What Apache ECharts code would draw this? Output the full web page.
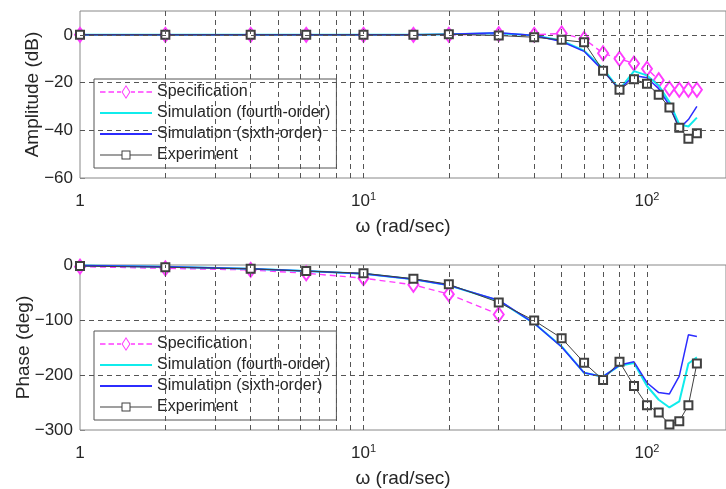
<!DOCTYPE html>
<html>
<head>
<meta charset="utf-8">
<script src="https://cdn.jsdelivr.net/npm/echarts@6/dist/echarts.min.js"></script>
<style>
    body { margin: 0; background: #fff; }
    #main { width: 726px; height: 489px; }
</style>
</head>
<body>
<div id="main"></div>
<script>
var chart = echarts.init(document.getElementById('main'));

// frequencies (rad/sec)
var freq = [1, 2, 4, 6.28, 10, 15, 20, 30, 40, 50, 60, 70, 80, 90, 100, 110, 120, 130, 140, 150];
var spec_phase_freq = [1, 2, 4, 6.28, 10, 15, 20, 30];

// amplitude (dB)
var amp_spec = [0, 0, 0, 0, 0, 0, 0, 0.3, 0, 0.6, -1.7, -7.7, -10, -12, -14.2, -19, -22.6, -23, -23, -23];
var amp_sim4 = [0, 0, 0, 0, 0, 0, 0.3, 0.7, -0.3, -2.4, -6.6, -14.2, -23, -15.2, -17, -21.2, -28.2, -37.5, -38.4, -34.7];
var amp_sim6 = [0, 0, 0, 0, 0, 0, 0.3, 0.9, -0.3, -2.8, -6.9, -15, -23, -17, -18, -22.6, -29.6, -39.3, -35.5, -30];
var amp_exp = [0, 0, 0, 0, 0, 0, 0.3, -0.3, -1, -2.1, -3.1, -15, -23, -18.6, -20.5, -25.1, -30.4, -38.9, -43.5, -41.2];

// phase (deg)
var phase_spec = [-3, -6, -9, -15, -24, -36, -53, -90];
var phase_sim4 = [-1, -3, -7, -11, -16, -26, -37, -65, -106, -148, -196, -203, -183, -178, -220, -245, -259, -248, -179, -168];
var phase_sim6 = [-1, -3, -7, -11, -16, -26, -37, -64, -106, -149, -196, -203, -182, -176, -214, -232, -234.5, -202, -127, -130];
var phase_exp = [-2, -4, -7, -11, -15, -25, -35, -68, -101, -133, -177.6, -209, -175.8, -220, -255, -268, -290, -284, -255, -179];

// grid lines
var grid_x = [2, 3, 4, 5, 6, 7, 8, 9, 10, 20, 30, 40, 50, 60, 70, 80, 90, 100];
var amp_grid_y = [0, -20, -40];
var phase_grid_y = [-100, -200];

var names = ['Specification', 'Simulation (fourth-order)', 'Simulation (sixth-order)', 'Experiment'];
var colors = ['#ff3cff', '#10ecec', '#2c2cff', '#404040'];
var font = 'Liberation Sans, Arial, sans-serif';

// legend icons: line + hollow marker, drawn as filled paths
var icon_spec = 'path://M0,6.3H5.5V7.7H0Z M8.5,6.3H14V7.7H8.5Z M17,6.3H21V7.7H17Z'
    + ' M26,0L30.5,7L26,14L21.5,7Z M26,1.8L22.7,7L26,12.2L29.3,7Z'
    + ' M31,6.3H35V7.7H31Z M38,6.3H43.5V7.7H38Z M46.5,6.3H52V7.7H46.5Z';
var icon_line = 'path://M0,0H52V2H0Z';
var icon_exp = 'path://M0,6.5H21.5V7.5H0Z M30.5,6.5H52V7.5H30.5Z'
    + ' M21.5,2.5H30.5V11.5H21.5Z M22.5,3.5V10.5H29.5V3.5Z';

function zip(xs, ys) {
    return xs.map(function (x, i) { return [x, ys[i]]; });
}

function x_label(v) {
    var e = Math.round(Math.log(v) / Math.LN10);
    if (e === 0) return '1{z| }';
    return '10{s|' + e + '}';
}

function y_label(v) {
    return String(v).replace('-', '\u2212');
}

function make_x_axis(idx) {
    return {
        type: 'log',
        gridIndex: idx,
        min: 1,
        max: 190,
        logBase: 10,
        name: 'ω (rad/sec)',
        nameLocation: 'middle',
        nameGap: 39,
        nameMoveOverlap: false,
        nameTextStyle: { fontSize: 19, color: '#262626', fontFamily: font },
        axisLine: { show: false },
        axisTick: { show: false },
        splitLine: { show: false },
        axisLabel: {
            showMaxLabel: false,
            margin: 13,
            fontSize: 17,
            color: '#262626',
            fontFamily: font,
            formatter: x_label,
            rich: {
                s: { fontSize: 11, padding: [0, 0, 9, 0], color: '#262626', fontFamily: font },
                z: { fontSize: 1, padding: [0, 0, 19, 0] }
            }
        }
    };
}

function make_y_axis(idx, min, max, interval, name, gap) {
    return {
        type: 'value',
        gridIndex: idx,
        min: min,
        max: max,
        interval: interval,
        name: name,
        nameLocation: 'middle',
        nameGap: gap,
        nameMoveOverlap: false,
        nameTextStyle: { fontSize: 19, color: '#262626', fontFamily: font },
        axisLine: { show: false },
        axisTick: { show: true, inside: true, length: 5, lineStyle: { color: '#888' } },
        splitLine: { show: false },
        axisLabel: {
            showMaxLabel: max === 0,
            margin: 7,
            fontSize: 17,
            color: '#262626',
            fontFamily: font,
            formatter: y_label
        }
    };
}

function grid_series(idx, ys) {
    return {
        type: 'line',
        xAxisIndex: idx,
        yAxisIndex: idx,
        data: [],
        silent: true,
        z: 1,
        markLine: {
            silent: true,
            animation: false,
            symbol: ['none', 'none'],
            label: { show: false },
            lineStyle: { color: '#555', type: [5, 4], width: 1 },
            emphasis: { disabled: true },
            data: grid_x.map(function (v) { return { xAxis: v }; })
                .concat(ys.map(function (v) { return { yAxis: v }; }))
        }
    };
}

function spec_series(idx, data) {
    return {
        name: names[0], type: 'line', xAxisIndex: idx, yAxisIndex: idx, z: 2, clip: false,
        data: data,
        symbol: 'emptyDiamond', symbolSize: [10, 14],
        itemStyle: { color: colors[0], borderWidth: 1.2 },
        lineStyle: { color: colors[0], width: 1.4, type: [6, 4] }
    };
}

function sim_series(idx, k, data, w) {
    return {
        name: names[k], type: 'line', xAxisIndex: idx, yAxisIndex: idx, z: 3, clip: false,
        data: data,
        symbol: 'none',
        itemStyle: { color: colors[k] },
        lineStyle: { color: colors[k], width: w }
    };
}

function exp_series(idx, data) {
    return {
        name: names[3], type: 'line', xAxisIndex: idx, yAxisIndex: idx, z: 4, clip: false,
        data: data,
        symbol: 'emptyRect', symbolSize: 8,
        itemStyle: { color: colors[3], borderWidth: 1 },
        lineStyle: { color: colors[3], width: 1 }
    };
}

function make_legend(top) {
    return {
        orient: 'vertical',
        left: 94,
        top: top,
        padding: [5, 6, 5, 6],
        itemWidth: 52,
        itemHeight: 14,
        itemGap: 5,
        itemTextGap: 5,
        backgroundColor: '#fff',
        borderColor: '#555',
        borderWidth: 1,
        borderRadius: 0,
        selectedMode: false,
        itemStyle: { borderWidth: 0 },
        textStyle: { fontSize: 16, color: '#262626', fontFamily: font },
        data: [
            { name: names[0], icon: icon_spec },
            { name: names[1], icon: icon_line },
            { name: names[2], icon: icon_line },
            { name: names[3], icon: icon_exp }
        ]
    };
}

var option = {
    animation: false,
    backgroundColor: '#fff',
    grid: [
        { left: 80, right: -2, top: 11, height: 167, show: true, borderColor: '#888', borderWidth: 1, backgroundColor: 'transparent' },
        { left: 80, right: -2, top: 265, height: 165, show: true, borderColor: '#888', borderWidth: 1, backgroundColor: 'transparent' }
    ],
    xAxis: [make_x_axis(0), make_x_axis(1)],
    yAxis: [
        make_y_axis(0, -60, 10, 20, 'Amplitude (dB)', 38),
        make_y_axis(1, -300, 0, 100, 'Phase (deg)', 47)
    ],
    legend: [make_legend(79), make_legend(331)],
    series: [
        grid_series(0, amp_grid_y),
        spec_series(0, zip(freq, amp_spec)),
        sim_series(0, 1, zip(freq, amp_sim4), 2),
        sim_series(0, 2, zip(freq, amp_sim6), 1.5),
        exp_series(0, zip(freq, amp_exp)),

        grid_series(1, phase_grid_y),
        spec_series(1, zip(spec_phase_freq, phase_spec)),
        sim_series(1, 1, zip(freq, phase_sim4), 2),
        sim_series(1, 2, zip(freq, phase_sim6), 1.5),
        exp_series(1, zip(freq, phase_exp))
    ]
};

chart.setOption(option);
</script>
</body>
</html>
